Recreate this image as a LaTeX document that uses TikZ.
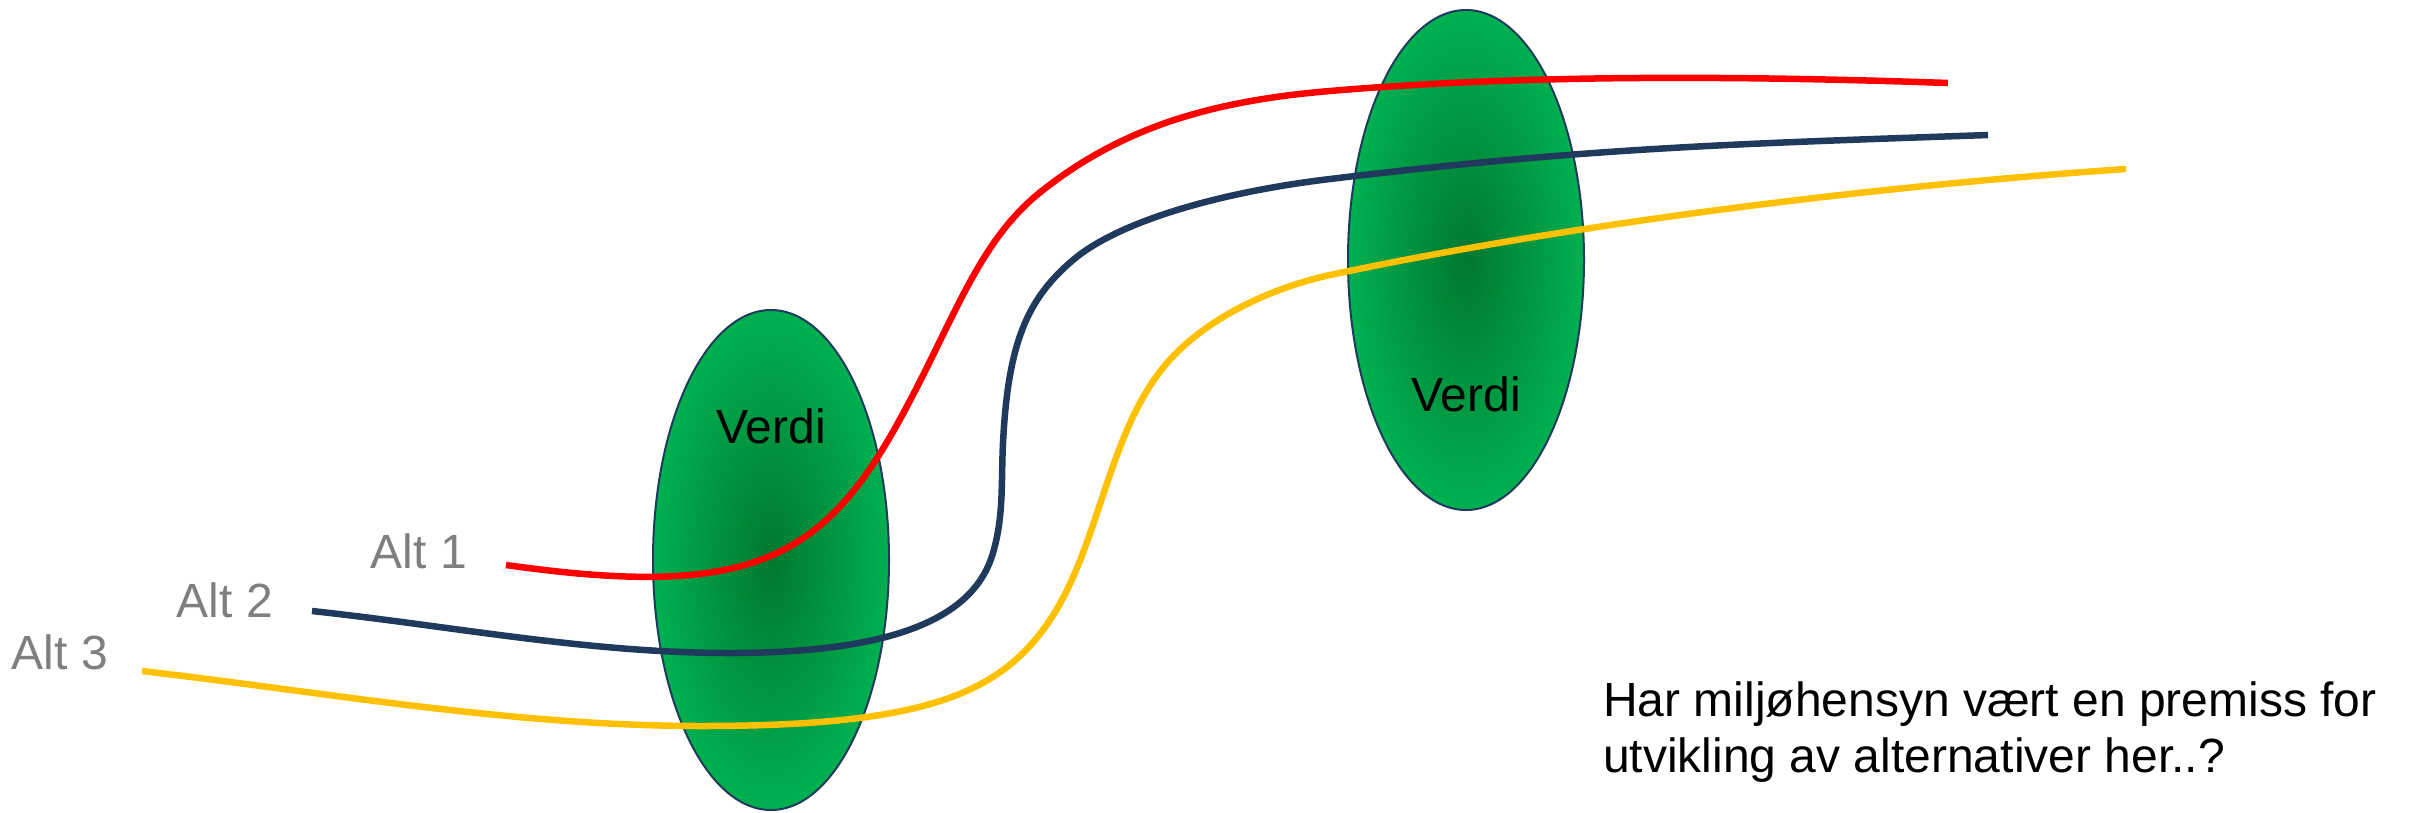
\documentclass[tikz,border=0pt]{standalone}
\usepackage{fontspec}
\setmainfont{Liberation Sans}
\usetikzlibrary{positioning,shapes.geometric}
\definecolor{altred}{HTML}{FF0000}
\definecolor{altnavy}{HTML}{1F3A5C}
\definecolor{altyellow}{HTML}{FFC000}
\definecolor{altgray}{HTML}{7F7F7F}
\definecolor{verdilight}{HTML}{00B050}
\definecolor{verdidark}{HTML}{00782F}
\tikzset{
  verdi/.style={ellipse,draw=altnavy,line width=2pt,shading=radial,inner color=verdidark,outer color=verdilight,minimum width=236pt,minimum height=500pt,inner sep=0pt},
  big/.style={inner sep=0pt,font=\fontsize{48}{56}\selectfont},
  alt/.style={big,text=altgray},
  altline/.style={line width=6.5pt}
}
\begin{document}
\begin{tikzpicture}[x=1pt,y=-1pt,node distance=134pt]
\useasboundingbox (0,0) rectangle (2410,812);
\fill (771,560) node[verdi] (V1) {};
\fill (1466,260) node[verdi] (V2) {};
\fill (0,0) node[above of=V1,big] (T1) {Verdi};
\fill (0,0) node[below of=V2,big] (T2) {Verdi};
%
\coordinate (S1) at (506,565);
\coordinate (S2) at (312,611);
\coordinate (S3) at (142,671);
\coordinate (E1) at (1948,83);
\coordinate (E2) at (1988,135);
\coordinate (E3) at (2126,169);
\fill (0,0) node[left of=S1,xshift=47pt,yshift=14pt,alt] (A1) {Alt 1};
\fill (0,0) node[left of=S2,xshift=47pt,yshift=11pt,alt] (A2) {Alt 2};
\fill (0,0) node[left of=S3,xshift=52pt,yshift=19pt,alt] (A3) {Alt 3};
\fill (1603,682) node[anchor=north west,align=left,big] (Q) {Har miljøhensyn vært en premiss for\\utvikling av alternativer her..?};
%
\draw[altline,altred] (S1) .. controls (753,600) and (825,560) .. (905,410)
  .. controls (957,313) and (980,239) .. (1043,190)
  .. controls (1122,128) and (1210,101) .. (1330,91)
  .. controls (1529,74) and (1748,76) .. (E1);
\draw[altline,altnavy] (S2) .. controls (451,626) and (589,653) .. (729,653)
  .. controls (909,653) and (976,611) .. (993,553)
  .. controls (1004,515) and (1001,483) .. (1003,443)
  .. controls (1008,343) and (1027,299) .. (1073,260)
  .. controls (1119,221) and (1221,192) .. (1330,179)
  .. controls (1586,148) and (1730,144) .. (E2);
\draw[altline,altyellow] (S3) .. controls (331,693) and (512,726) .. (702,726)
  .. controls (922,726) and (1000,695) .. (1050,620)
  .. controls (1100,545) and (1108,431) .. (1167,363)
  .. controls (1206,318) and (1271,288) .. (1330,275)
  .. controls (1575,223) and (1877,186) .. (E3);
\end{tikzpicture}
\end{document}
